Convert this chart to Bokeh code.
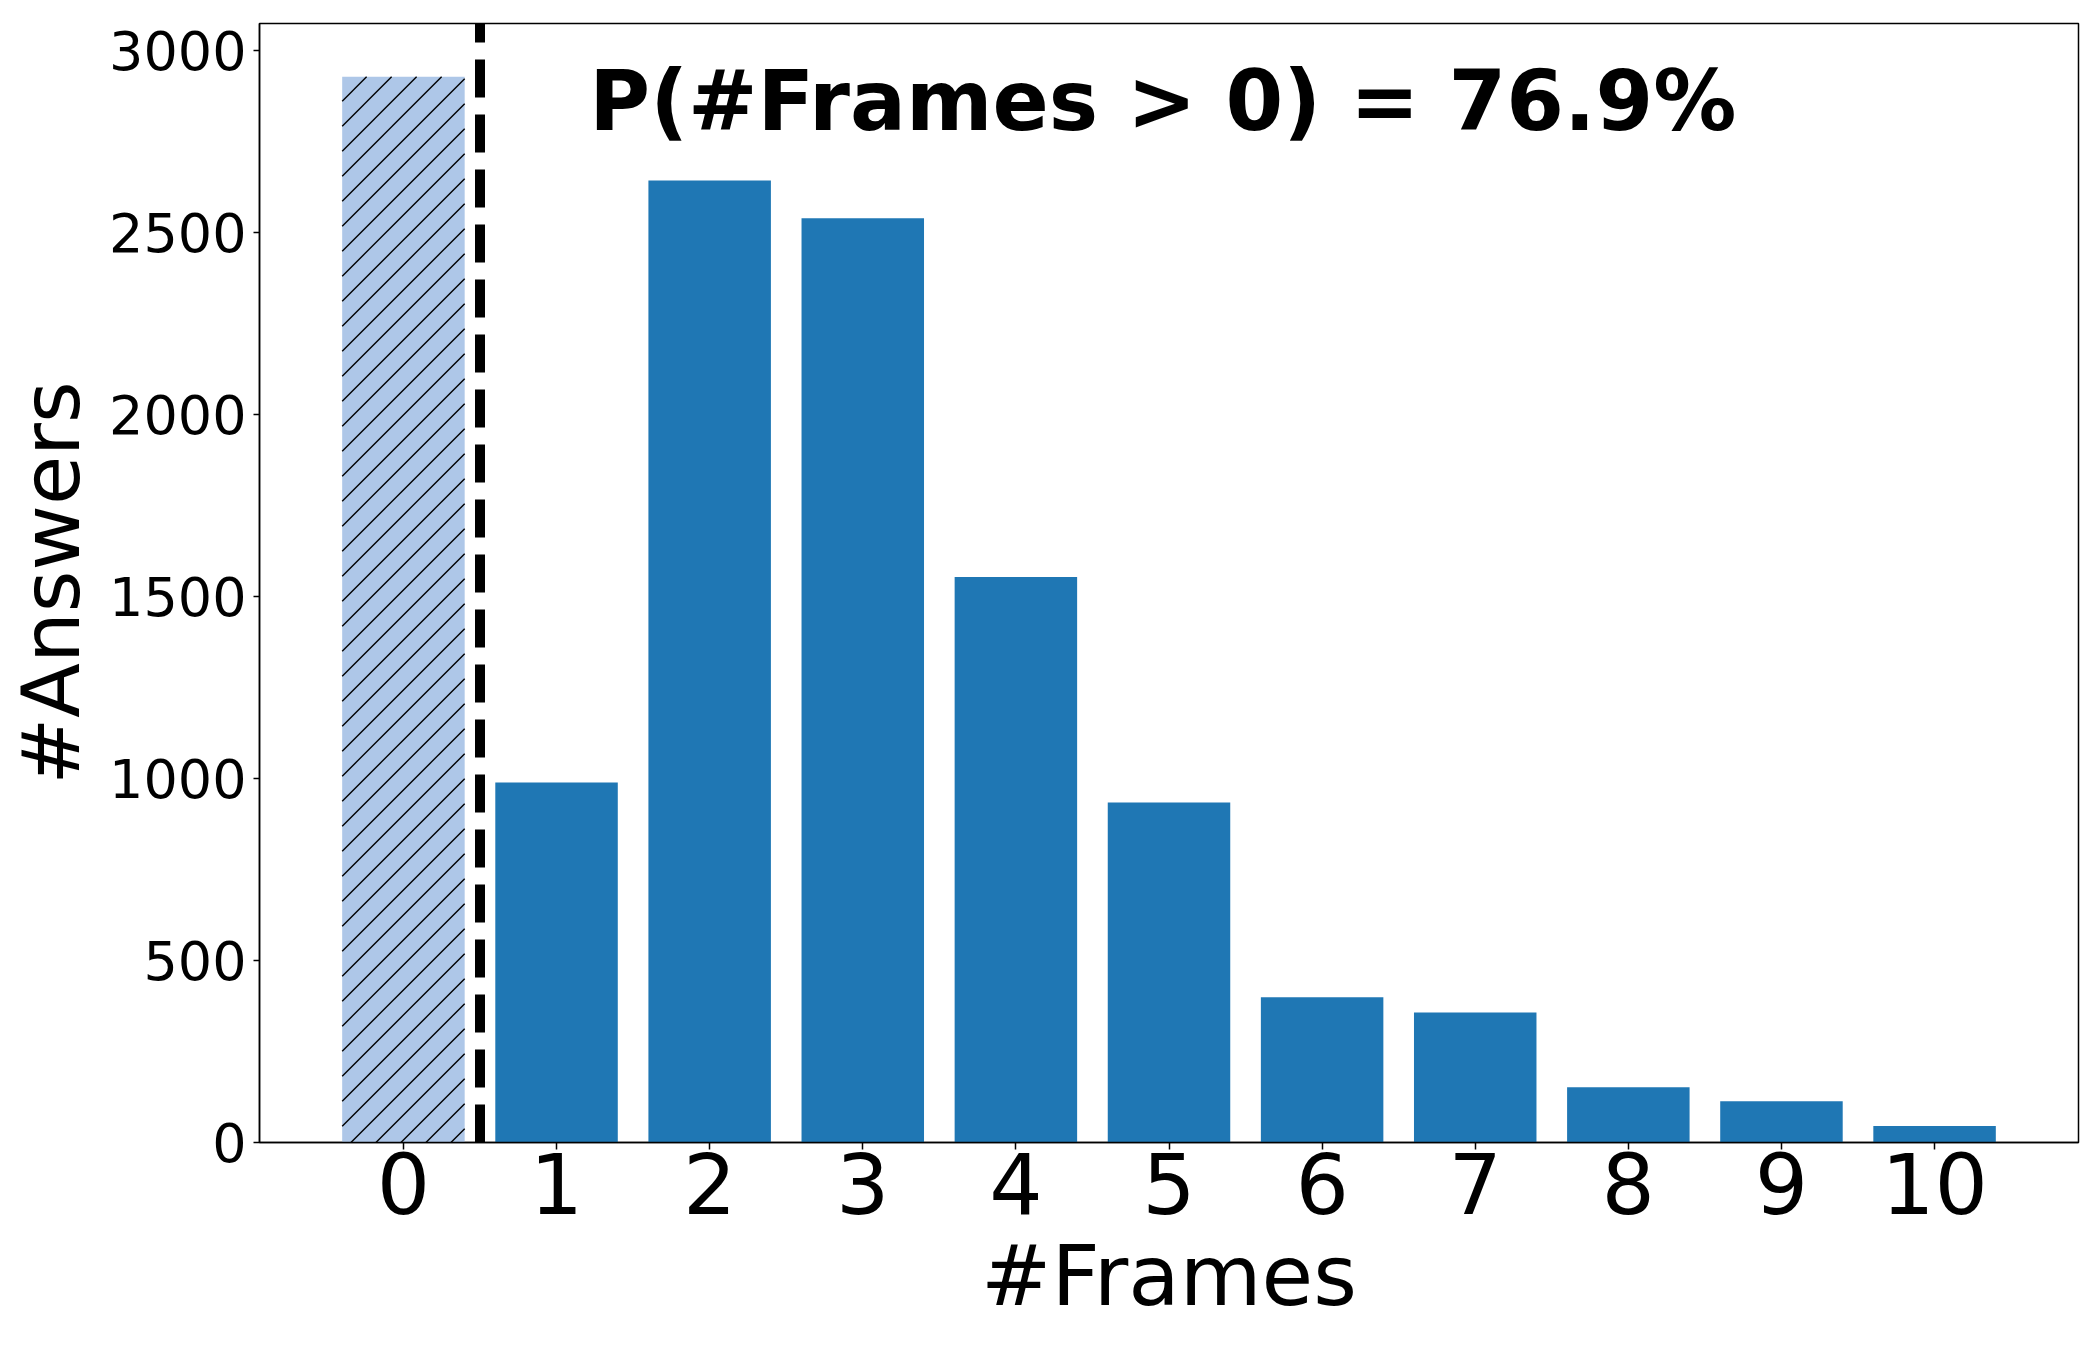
import numpy as np
from bokeh.plotting import figure
from bokeh.models import Range1d, FixedTicker
from bokeh.embed import file_html
from bokeh.resources import INLINE
from bokeh.core.properties import value

# ---- data ----
frames = [0, 1, 2, 3, 4, 5, 6, 7, 8, 9, 10]
answers = [2928, 989, 2643, 2539, 1554, 934, 399, 357, 152, 113, 45]
x_ticks = [0, 1, 2, 3, 4, 5, 6, 7, 8, 9, 10]
y_ticks = [0, 500, 1000, 1500, 2000, 2500, 3000]
threshold_x = 0.5
annotation = "P(#Frames > 0) = 76.9%"
annotation_x = 4.96
annotation_y = 2861

FONT = "DejaVu Sans"
BAR_W = 0.8
FRAME_W, FRAME_H = 1819, 1119
x0r, x1r = -0.94, 10.94
ymax = max(answers) * 1.05

p = figure(
    frame_width=FRAME_W, frame_height=FRAME_H,
    min_border_left=259, min_border_right=6, min_border_top=23, min_border_bottom=192,
    output_backend="svg", toolbar_location=None,
    x_range=Range1d(x0r, x1r), y_range=Range1d(0, ymax),
)
p.background_fill_color = "white"
p.border_fill_color = "white"
p.outline_line_color = "black"
p.outline_line_width = 1.5
p.xgrid.visible = False
p.ygrid.visible = False

# bars
p.vbar(x=frames[1:], top=answers[1:], width=BAR_W, fill_color="#1f77b4", line_color=None)
p.vbar(x=frames[:1], top=answers[:1], width=BAR_W, fill_color="#aec7e8", line_color=None)

# 45-degree "//" hatch for the first bar (matplotlib style), derived from the bar extent
px_x = FRAME_W / (x1r - x0r)
px_y = FRAME_H / ymax
W = BAR_W * px_x
H = answers[0] * px_y
left = frames[0] - BAR_W / 2
step = 25.0
hx0, hy0, hx1, hy1 = [], [], [], []
d = -W + step * 0.55
while d < H:
    u0 = max(0.0, -d)
    u1 = min(W, H - d)
    if u1 > u0:
        hx0.append(left + u0 / px_x); hy0.append((u0 + d) / px_y)
        hx1.append(left + u1 / px_x); hy1.append((u1 + d) / px_y)
    d += step
p.segment(x0=hx0, y0=hy0, x1=hx1, y1=hy1, line_color="black", line_width=1.4)

# dashed threshold line
p.segment(x0=[threshold_x], y0=[0], x1=[threshold_x], y1=[ymax],
          line_color="black", line_width=10, line_dash="38 17")

# annotation
p.text(x=[annotation_x], y=[annotation_y], text=[annotation], text_align="center",
       text_baseline="alphabetic", text_font=value(FONT), text_font_size="83px",
       text_font_style="bold", text_color="black")

# axes
p.xaxis.ticker = FixedTicker(ticks=x_ticks)
p.yaxis.ticker = FixedTicker(ticks=y_ticks)
for ax in (p.xaxis[0], p.yaxis[0]):
    ax.axis_line_color = "black"
    ax.axis_line_width = 1.5
    ax.major_tick_line_color = "black"
    ax.major_tick_line_width = 1.5
    ax.major_tick_in = 0
    ax.minor_tick_line_color = None
    ax.major_label_text_font = FONT
    ax.axis_label_text_font = FONT
    ax.axis_label_text_font_style = "normal"
    ax.major_label_text_color = "black"
    ax.axis_label_text_color = "black"

p.xaxis.major_tick_out = 7
p.xaxis.major_label_text_font_size = "84px"
p.xaxis.major_label_standoff = 2
p.xaxis.axis_label = "#Frames"
p.xaxis.axis_label_text_font_size = "84px"
p.xaxis.axis_label_standoff = 10

p.yaxis.major_tick_out = 6
p.yaxis.major_label_text_font_size = "54px"
p.yaxis.major_label_standoff = 7
p.yaxis.axis_label = "#Answers"
p.yaxis.axis_label_text_font_size = "80px"
p.yaxis.axis_label_standoff = 8

open("out.html", "w").write(file_html(p, INLINE))
